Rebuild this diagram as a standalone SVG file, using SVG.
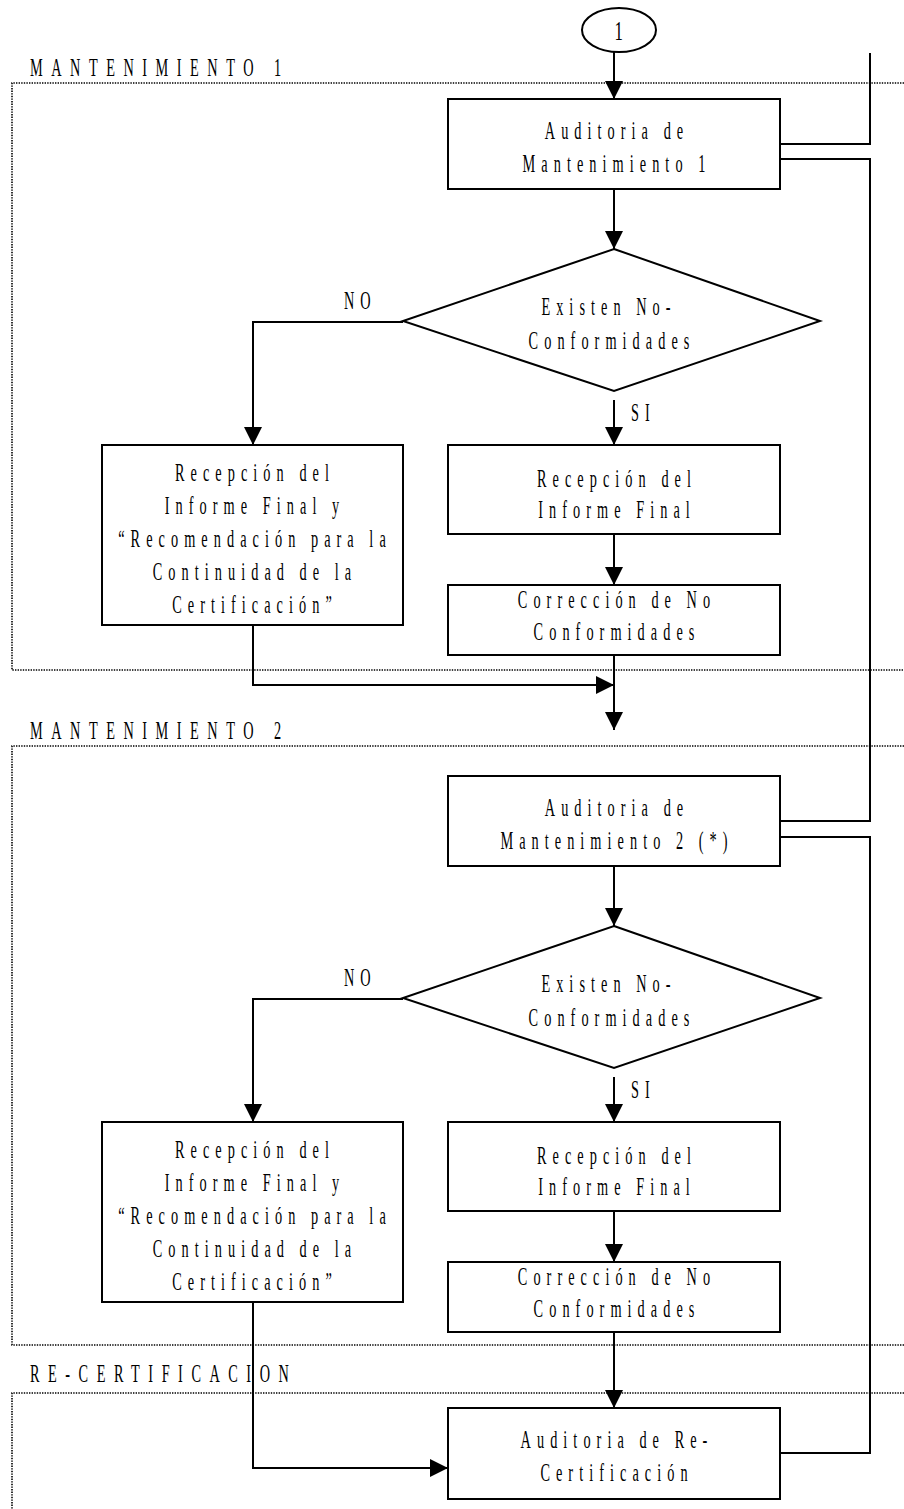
<svg xmlns="http://www.w3.org/2000/svg" width="904" height="1509" viewBox="0 0 904 1509">
<style>
.bg{fill:#fff}
.region{fill:none;stroke:#000;stroke-width:1.6;stroke-dasharray:1.4 1.2}
.node{fill:#fff;stroke:#000;stroke-width:2}
.conn{fill:none;stroke:#000;stroke-width:2}
.t{font-family:"Liberation Serif","Times New Roman",serif;font-size:26px;letter-spacing:11px;text-anchor:middle;fill:#000}
.lbl{font-family:"Liberation Serif","Times New Roman",serif;font-size:26px;letter-spacing:15.5px;fill:#000}
.yn{font-family:"Liberation Serif","Times New Roman",serif;font-size:26px;letter-spacing:11px;fill:#000}
</style>
<defs>
<marker id="arr" viewBox="0 0 18 18" markerWidth="18" markerHeight="18" refX="18" refY="9" orient="auto" markerUnits="userSpaceOnUse">
<path d="M0,0 L18,9 L0,18 Z" fill="#000"/>
</marker>
</defs>
<rect class="bg" x="0" y="0" width="904" height="1509"/>
<g id="regions">
<path class="region" d="M904,83 H12 V670 H904"/>
<path class="region" d="M904,746 H12 V1345 H904"/>
<path class="region" d="M904,1393 H12 V1509"/>
<text class="lbl" transform="translate(30,76) scale(0.55,1)">MANTENIMIENTO 1</text>
<text class="lbl" transform="translate(30,739) scale(0.55,1)">MANTENIMIENTO 2</text>
<text class="lbl" transform="translate(30,1382) scale(0.55,1)">RE-CERTIFICACION</text>
</g>
<g id="connectors">
<path class="conn" d="M614,52 V99" marker-end="url(#arr)"/>
<path class="conn" d="M614,189 V249" marker-end="url(#arr)"/>
<path class="conn" d="M614,400 V445" marker-end="url(#arr)"/>
<path class="conn" d="M403,322 H253 V445" marker-end="url(#arr)"/>
<path class="conn" d="M614,534 V585" marker-end="url(#arr)"/>
<path class="conn" d="M253,625 V685 H614" marker-end="url(#arr)"/>
<path class="conn" d="M614,655 V730" marker-end="url(#arr)"/>
<path class="conn" d="M870,53 V144 H780"/>
<path class="conn" d="M780,159 H870 V821 H780"/>
<path class="conn" d="M614,866 V926" marker-end="url(#arr)"/>
<path class="conn" d="M614,1077 V1122" marker-end="url(#arr)"/>
<path class="conn" d="M403,999 H253 V1122" marker-end="url(#arr)"/>
<path class="conn" d="M614,1211 V1262" marker-end="url(#arr)"/>
<path class="conn" d="M253,1302 V1468 H448" marker-end="url(#arr)"/>
<path class="conn" d="M614,1332 V1408" marker-end="url(#arr)"/>
<path class="conn" d="M780,837 H870 V1453 H780"/>
<text class="yn" transform="translate(344,309) scale(0.55,1)">NO</text>
<text class="yn" transform="translate(631,421) scale(0.55,1)">SI</text>
<text class="yn" transform="translate(344,986) scale(0.55,1)">NO</text>
<text class="yn" transform="translate(631,1098) scale(0.55,1)">SI</text>
</g>
<g id="start">
<ellipse class="node" cx="619" cy="30" rx="37" ry="22"/>
<text class="t" transform="translate(622,40) scale(0.6,1)" style="font-size:28px">1</text>
</g>
<g id="auditoria1">
<rect class="node" x="448" y="99" width="332" height="90"/>
<text class="t" transform="translate(617,139) scale(0.55,1)">Auditoria de</text>
<text class="t" transform="translate(617,172) scale(0.55,1)">Mantenimiento 1</text>
</g>
<g id="decision1">
<polygon class="node" points="614,249 820,321 614,391 403,321"/>
<text class="t" transform="translate(609,315) scale(0.55,1)">Existen No-</text>
<text class="t" transform="translate(612,349) scale(0.55,1)">Conformidades</text>
</g>
<g id="continuidad1">
<rect class="node" x="102" y="445" width="301" height="180"/>
<text class="t" transform="translate(255,481) scale(0.55,1)">Recepción del</text>
<text class="t" transform="translate(255,514) scale(0.55,1)">Informe Final y</text>
<text class="t" transform="translate(255,547) scale(0.55,1)">“Recomendación para la</text>
<text class="t" transform="translate(255,580) scale(0.55,1)">Continuidad de la</text>
<text class="t" transform="translate(255,613) scale(0.55,1)">Certificación”</text>
</g>
<g id="informe1">
<rect class="node" x="448" y="445" width="332" height="89"/>
<text class="t" transform="translate(617,487) scale(0.55,1)">Recepción del</text>
<text class="t" transform="translate(617,518) scale(0.55,1)">Informe Final</text>
</g>
<g id="correccion1">
<rect class="node" x="448" y="585" width="332" height="70"/>
<text class="t" transform="translate(617,608) scale(0.55,1)">Corrección de No</text>
<text class="t" transform="translate(617,640) scale(0.55,1)">Conformidades</text>
</g>
<g id="auditoria2">
<rect class="node" x="448" y="776" width="332" height="90"/>
<text class="t" transform="translate(617,816) scale(0.55,1)">Auditoria de</text>
<text class="t" transform="translate(617,849) scale(0.55,1)">Mantenimiento 2 (*)</text>
</g>
<g id="decision2">
<polygon class="node" points="614,926 820,998 614,1068 403,998"/>
<text class="t" transform="translate(609,992) scale(0.55,1)">Existen No-</text>
<text class="t" transform="translate(612,1026) scale(0.55,1)">Conformidades</text>
</g>
<g id="continuidad2">
<rect class="node" x="102" y="1122" width="301" height="180"/>
<text class="t" transform="translate(255,1158) scale(0.55,1)">Recepción del</text>
<text class="t" transform="translate(255,1191) scale(0.55,1)">Informe Final y</text>
<text class="t" transform="translate(255,1224) scale(0.55,1)">“Recomendación para la</text>
<text class="t" transform="translate(255,1257) scale(0.55,1)">Continuidad de la</text>
<text class="t" transform="translate(255,1290) scale(0.55,1)">Certificación”</text>
</g>
<g id="informe2">
<rect class="node" x="448" y="1122" width="332" height="89"/>
<text class="t" transform="translate(617,1164) scale(0.55,1)">Recepción del</text>
<text class="t" transform="translate(617,1195) scale(0.55,1)">Informe Final</text>
</g>
<g id="correccion2">
<rect class="node" x="448" y="1262" width="332" height="70"/>
<text class="t" transform="translate(617,1285) scale(0.55,1)">Corrección de No</text>
<text class="t" transform="translate(617,1317) scale(0.55,1)">Conformidades</text>
</g>
<g id="recertificacion">
<rect class="node" x="448" y="1408" width="332" height="91"/>
<text class="t" transform="translate(617,1448) scale(0.55,1)">Auditoria de Re-</text>
<text class="t" transform="translate(617,1481) scale(0.55,1)">Certificación</text>
</g>
</svg>
